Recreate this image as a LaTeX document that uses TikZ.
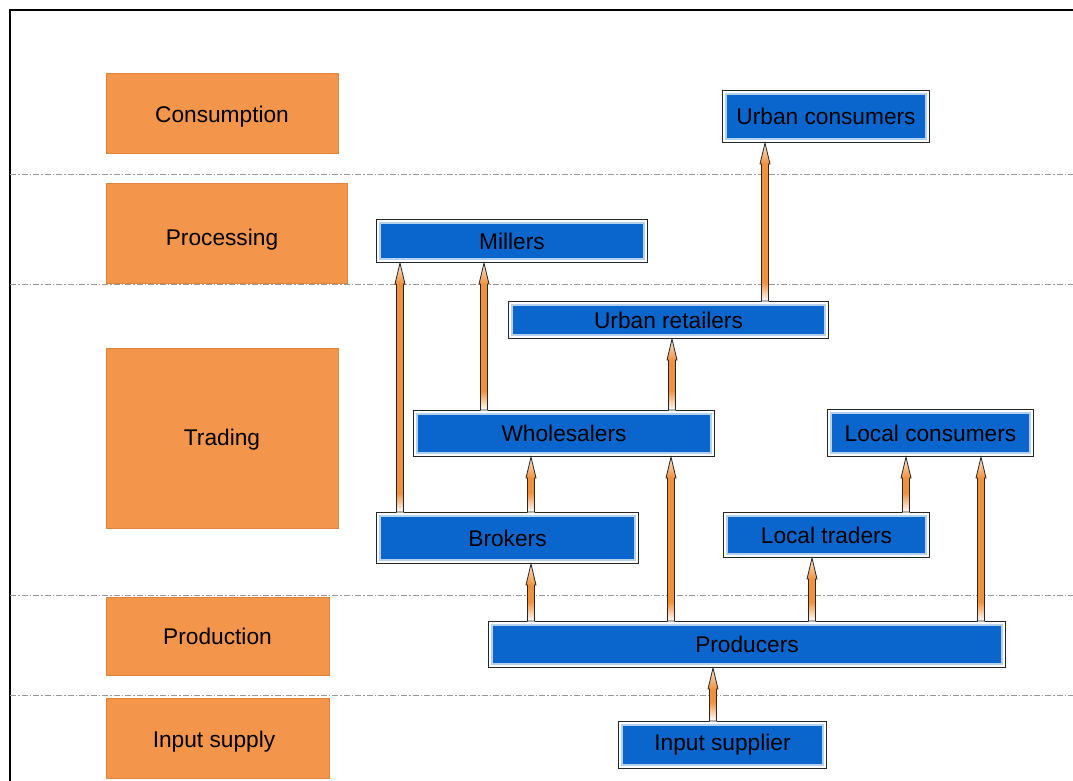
\documentclass[tikz,border=0pt]{standalone}
\usepackage{fontspec}
\setmainfont{Liberation Sans}
\usetikzlibrary{calc}
\definecolor{orbox}{HTML}{F3954A}
\definecolor{orline}{HTML}{E0843A}
\definecolor{bluebox}{HTML}{0A66CC}
\definecolor{arr}{HTML}{F0913E}
\tikzset{
  stage/.style={fill=orbox, draw=orline, line width=0.8pt, inner sep=0pt,
    font=\fontsize{22.7}{27}\selectfont},
  actor/.style={fill=bluebox, draw=bluebox!30!white, line width=2pt, inner sep=0pt,
    font=\fontsize{22.7}{27}\selectfont},
  outerframe/.style={draw=black!85, line width=1.3pt},
  layersep/.style={draw=gray!80, line width=1pt, dash pattern=on 6pt off 2pt on 1.5pt off 2pt},
  arrline/.style={draw=black!85, line width=0.8pt, line join=miter}
}
% text shifted: #1 = left shift doubled, #2 = baseline drop, #3 = text
\newcommand\stxt[3]{\hspace*{#1}\smash{\raisebox{#2}{#3}}}
\newcommand\flowup[3]{%
  \fill[arr] let \p0=(#1,0), \p1=(#2.north), \p2=(#3.south) in
    (\x0-3.5pt,\y1+20pt) rectangle (\x0+3.5pt,\y2-22pt);
  \shade[top color=arr, bottom color=white] let \p0=(#1,0), \p1=(#2.north), \p2=(#3.south) in
    (\x0-3.5pt,\y1+3pt) rectangle (\x0+3.5pt,\y1+22pt);
  \shade[top color=arr!20!white, bottom color=arr] let \p0=(#1,0), \p1=(#2.north), \p2=(#3.south) in
    (\x0-5pt,\y2-24pt) -- (\x0,\y2-3pt) -- (\x0+5pt,\y2-24pt) -- cycle;
  \draw[arrline] let \p0=(#1,0), \p1=(#2.north), \p2=(#3.south) in
    (\x0-3.5pt,\y1+3pt) -- (\x0-3.5pt,\y2-24pt) -- (\x0-5pt,\y2-24pt) -- (\x0,\y2-3pt)
    -- (\x0+5pt,\y2-24pt) -- (\x0+3.5pt,\y2-24pt) -- (\x0+3.5pt,\y1+3pt) -- cycle;
}
\begin{document}
\begin{tikzpicture}[x=1pt, y=-1pt]
\useasboundingbox (0,0) rectangle (1073,781);
\fill[white] (0,0) rectangle (1073,781);
% frame
\draw[line width=1.5pt] (10,781) -- (10,10) -- (1073,10);
% layer separators
\foreach \yy in {174,284,595,695} \draw[layersep] (10,\yy) -- (1073,\yy);
% stages
\node[stage, minimum width=232pt, minimum height=80pt] (consumption) at (222,113) {\stxt{0pt}{-10pt}{Consumption}};
\node[stage, minimum width=241pt, minimum height=100pt] (processing) at (226.5,233) {\stxt{-9pt}{-12pt}{Processing}};
\node[stage, minimum width=232pt, minimum height=180pt] (trading) at (222,438) {\stxt{0pt}{-7pt}{Trading}};
\node[stage, minimum width=223pt, minimum height=78pt] (production) at (217.5,636) {\stxt{0pt}{-8pt}{Production}};
\node[stage, minimum width=223pt, minimum height=80pt] (inputsupply) at (217.5,738) {\stxt{-7pt}{-9pt}{Input supply}};
% actors
\node[actor, minimum width=200pt, minimum height=45pt] (urbancons) at (826,116.5) {Urban consumers};
\node[actor, minimum width=264pt, minimum height=36pt] (millers) at (512,241) {Millers};
\node[actor, minimum width=313pt, minimum height=30pt] (urbanret) at (668.5,320) {Urban retailers};
\node[actor, minimum width=294pt, minimum height=39pt] (wholesalers) at (564,433.5) {Wholesalers};
\node[actor, minimum width=199pt, minimum height=40pt] (localcons) at (930.5,433) {Local consumers};
\node[actor, minimum width=255pt, minimum height=44pt] (brokers) at (507.5,538) {Brokers};
\node[actor, minimum width=199pt, minimum height=38pt] (localtr) at (826.5,535) {Local traders};
\node[actor, minimum width=510pt, minimum height=39pt] (producers) at (747,644.5) {Producers};
\node[actor, minimum width=201pt, minimum height=40pt] (inputsup) at (722.5,745) {Input supplier};
\foreach \n in {urbancons,millers,urbanret,wholesalers,localcons,brokers,localtr,producers,inputsup}
  \draw[outerframe] ([shift={(-2.8pt,2.8pt)}]\n.north west) rectangle ([shift={(2.8pt,-2.8pt)}]\n.south east);
% flows
\flowup{400}{brokers}{millers}
\flowup{484}{wholesalers}{millers}
\flowup{672}{wholesalers}{urbanret}
\flowup{765}{urbanret}{urbancons}
\flowup{531}{brokers}{wholesalers}
\flowup{531}{producers}{brokers}
\flowup{671}{producers}{wholesalers}
\flowup{812}{producers}{localtr}
\flowup{981}{producers}{localcons}
\flowup{906}{localtr}{localcons}
\flowup{713}{inputsup}{producers}
\end{tikzpicture}
\end{document}
